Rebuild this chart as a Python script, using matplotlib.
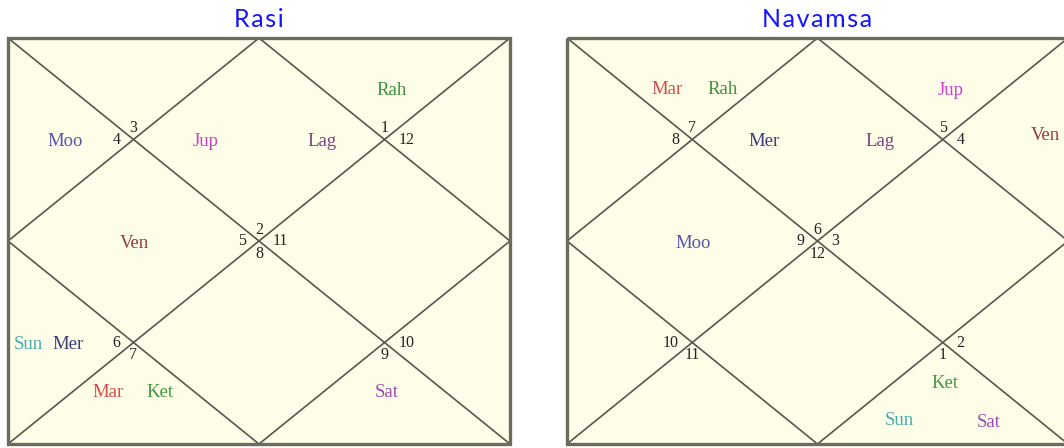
import matplotlib
matplotlib.use("Agg")
import matplotlib.pyplot as plt
from matplotlib.patches import Rectangle, Polygon

# sign number held by each house, house 1 .. 12
rasi_signs = [2, 3, 4, 5, 6, 7, 8, 9, 10, 11, 12, 1]
navamsa_signs = [6, 7, 8, 9, 10, 11, 12, 1, 2, 3, 4, 5]

# planets in each house, house 1 .. 12
rasi_planets = [["Jup", "Lag"], [], ["Moo"], ["Ven"], ["Sun", "Mer"], ["Mar", "Ket"],
                [], ["Sat"], [], [], [], ["Rah"]]
navamsa_planets = [["Mer", "Lag"], ["Mar", "Rah"], [], ["Moo"], [], [],
                   [], ["Ket", "Sun", "Sat"], [], [], ["Ven"], ["Jup"]]

chart_titles = ["Rasi", "Navamsa"]

PLANET_COLORS = {"Sun": "#46abab", "Moo": "#5656ad", "Mar": "#d64b4b", "Mer": "#3c3c7c",
                 "Jup": "#cc40cc", "Ven": "#9a3a3a", "Sat": "#9a4cae", "Rah": "#3f8f3f",
                 "Ket": "#3f983f", "Lag": "#7e3e7e"}

BG = "#fefee8"
BORDER = "#6c6c5c"
LINE = "#56564e"
SERIF = "Liberation Serif"

# where planet names go inside a house (chart unit coords): centre u, v, spread for two names
HOUSE_TEXT = {1: (0.509, 0.255, 0.116), 2: (0.255, 0.128, 0.055), 3: (0.114, 0.256, 0.045),
              4: (0.252, 0.505, 0.10), 5: (0.080, 0.756, 0.040), 6: (0.251, 0.874, 0.052),
              7: (0.500, 0.750, 0.10), 8: (0.755, 0.874, 0.052), 9: (0.920, 0.756, 0.040),
              10: (0.750, 0.500, 0.10), 11: (0.954, 0.241, 0.045), 12: (0.765, 0.130, 0.055)}

# house number: inner corner it sits by, and which side
HOUSE_NUM = {1: ((0.5, 0.5), "above"), 2: ((0.25, 0.25), "above"), 3: ((0.25, 0.25), "left"),
             4: ((0.5, 0.5), "left"), 5: ((0.25, 0.75), "left"), 6: ((0.25, 0.75), "below"),
             7: ((0.5, 0.5), "below"), 8: ((0.75, 0.75), "below"), 9: ((0.75, 0.75), "right"),
             10: ((0.5, 0.5), "right"), 11: ((0.75, 0.25), "right"), 12: ((0.75, 0.25), "above")}
NUM_OFFSET = {"above": ((0, 8), "center"), "below": ((0, -9), "center"),
              "left": ((-9.5, 0), "right"), "right": ((10, 0), "left")}


def planet_slots(house, n):
    u, v, dx = HOUSE_TEXT[house]
    if n == 1:
        return [(u, v)]
    if n == 2:
        return [(u - dx, v), (u + dx, v)]
    return [(u, v - 0.024), (u - 0.092, v + 0.068), (u + 0.086, v + 0.072)]


def draw_chart(ax, title, signs, planets):
    ax.set_xlim(0, 1)
    ax.set_ylim(1, 0)
    ax.axis("off")
    # cream fill under everything, border over everything
    ax.add_patch(Rectangle((0, 0), 1, 1, facecolor=BG, edgecolor="none", zorder=0))
    ax.add_patch(Rectangle((0, 0), 1, 1, fill=False, edgecolor=BORDER, lw=2.4,
                           clip_on=False, zorder=5))
    ax.plot([0, 1], [0, 1], color=LINE, lw=1.2, zorder=2)
    ax.plot([1, 0], [0, 1], color=LINE, lw=1.2, zorder=2)
    ax.add_patch(Polygon([(0.5, 0), (1, 0.5), (0.5, 1), (0, 0.5)], closed=True,
                         fill=False, edgecolor=LINE, lw=1.2, zorder=2))

    for h in range(1, 13):
        pt, side = HOUSE_NUM[h]
        off, ha = NUM_OFFSET[side]
        ax.annotate(str(signs[h - 1]), pt, xytext=off, textcoords="offset points",
                    ha=ha, va="center", fontsize=11.5, family=SERIF, color="#222222",
                    zorder=4)
        names = planets[h - 1]
        for name, (u, v) in zip(names, planet_slots(h, len(names))):
            ax.text(u, v, name, ha="center", va="center", fontsize=13.5, family=SERIF,
                    color=PLANET_COLORS[name], zorder=4)

    ax.set_title("\u200a".join(title), fontsize=18, color="#1414ff",
                 family=["Lato", "DejaVu Sans"], pad=8)


fig = plt.figure(figsize=(10.64, 4.48), dpi=100)
fig.patch.set_facecolor("white")
ax1 = fig.add_axes([8 / 1064, 4 / 448, 502 / 1064, 406 / 448])
ax2 = fig.add_axes([567 / 1064, 4 / 448, 501 / 1064, 406 / 448])

draw_chart(ax1, chart_titles[0], rasi_signs, rasi_planets)
draw_chart(ax2, chart_titles[1], navamsa_signs, navamsa_planets)

fig.savefig("out.png", dpi=100, facecolor="white")
